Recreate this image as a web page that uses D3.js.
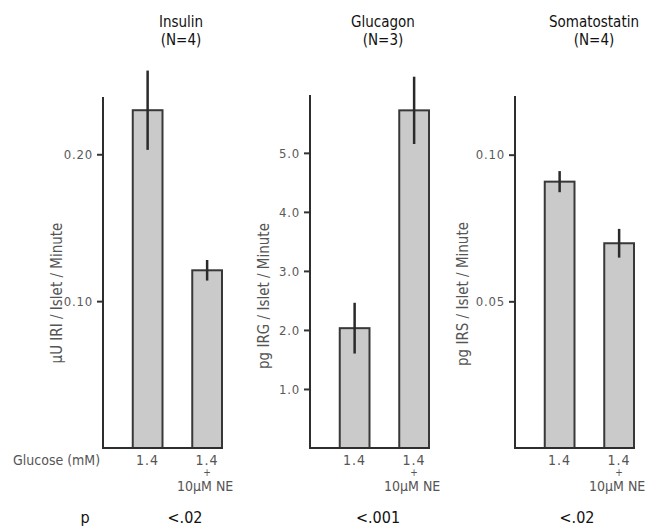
<!DOCTYPE html>
<html>
<head>
<meta charset="utf-8">
<script src="https://cdn.jsdelivr.net/npm/d3@7"></script>
<style>
  body { margin: 0; background: #fff; }
  svg { display: block; }
  .tick-label { font-family: "DejaVu Sans Condensed", "DejaVu Sans", sans-serif; font-size: 13px; fill: #5a5a5a; letter-spacing: 0.8px; }
  .ylab { font-family: "DejaVu Sans Condensed", "DejaVu Sans", sans-serif; font-size: 15px; fill: #555; }
  .title { font-family: "DejaVu Sans Condensed", "DejaVu Sans", sans-serif; font-size: 15px; fill: #111; }
  .cat { font-family: "DejaVu Sans Condensed", "DejaVu Sans", sans-serif; font-size: 14px; fill: #555; }
  .pval { font-family: "DejaVu Sans Condensed", "DejaVu Sans", sans-serif; font-size: 16px; fill: #111; }
</style>
</head>
<body>
<svg id="chart" width="660" height="531"></svg>
<script>
// hormone panels
const hormones = ["Insulin", "Glucagon", "Somatostatin"];
const counts = ["(N=4)", "(N=3)", "(N=4)"];
const yLabels = ["\u03bcU IRI / Islet / Minute", "pg IRG / Islet / Minute", "pg IRS / Islet / Minute"];
const conditions = ["1.4", "1.4 + NE"];

// bar means and standard errors
const means = [
  [0.230, 0.121],
  [2.03, 5.72],
  [0.0908, 0.0698]
];
const errors = [
  [0.027, 0.007],
  [0.43, 0.57],
  [0.0036, 0.0049]
];

// axis setup
const yMax = [0.239, 5.98, 0.12];
const yTicks = [[0.10, 0.20], [1, 2, 3, 4, 5], [0.05, 0.10]];
const tickFormats = [".2f", ".1f", ".2f"];
const pValues = ["<.02", "<.001", "<.02"];

// layout
const svg = d3.select("#chart");
const base = 448;
const axisX = [103, 310, 515];
const axisTop = [97, 95, 96];
const pOffset = [82, 68, 62];
const titleOffset = [78, 73, 79];
const yLabelPos = [[57, 293], [264, 296], [463, 294]];
const panelW = 119;

hormones.forEach((name, i) => {
  const g = svg.append("g");
  const x = d3.scaleBand()
    .domain(conditions)
    .range([axisX[i], axisX[i] + panelW])
    .paddingInner(0.5)
    .paddingOuter(0.25)
    .align(1);
  const y = d3.scaleLinear().domain([0, yMax[i]]).range([base, axisTop[i]]);

  const rows = conditions.map((c, j) => ({ c, m: means[i][j], e: errors[i][j] }));

  // bars
  g.selectAll("rect.bar")
    .data(rows)
    .enter()
    .append("rect")
    .attr("class", "bar")
    .attr("x", d => x(d.c))
    .attr("width", x.bandwidth())
    .attr("y", d => y(d.m))
    .attr("height", d => base - y(d.m))
    .attr("fill", "#cacaca")
    .attr("stroke", "#383838")
    .attr("stroke-width", 2);

  // error bars
  g.selectAll("line.err")
    .data(rows)
    .enter()
    .append("line")
    .attr("class", "err")
    .attr("x1", d => x(d.c) + x.bandwidth() / 2)
    .attr("x2", d => x(d.c) + x.bandwidth() / 2)
    .attr("y1", d => y(d.m + d.e))
    .attr("y2", d => y(d.m - d.e))
    .attr("stroke", "#2a2a2a")
    .attr("stroke-width", 2.5);

  // y axis
  const ax = d3.axisLeft(y)
    .tickValues(yTicks[i])
    .tickFormat(d3.format(tickFormats[i]))
    .tickSize(6)
    .tickPadding(4);
  const axG = g.append("g")
    .attr("transform", `translate(${axisX[i]},0)`)
    .call(ax);
  axG.select(".domain").remove();
  axG.selectAll(".tick line").attr("stroke", "#333").attr("stroke-width", 2);
  axG.selectAll(".tick text").attr("class", "tick-label").attr("font-family", null).attr("font-size", null).attr("fill", null);
  axG.attr("font-family", null).attr("font-size", null);

  g.append("line")
    .attr("x1", axisX[i]).attr("x2", axisX[i])
    .attr("y1", axisTop[i]).attr("y2", base + 1)
    .attr("stroke", "#2e2e2e").attr("stroke-width", 2);
  g.append("line")
    .attr("x1", axisX[i] - 1).attr("x2", axisX[i] + panelW + 1)
    .attr("y1", base).attr("y2", base)
    .attr("stroke", "#2e2e2e").attr("stroke-width", 2.2);

  // y label
  g.append("text")
    .attr("class", "ylab")
    .attr("text-anchor", "middle")
    .attr("transform", `translate(${yLabelPos[i][0]},${yLabelPos[i][1]}) rotate(-90)`)
    .attr("dy", "0.35em")
    .text(yLabels[i]);

  // titles
  const cx = axisX[i] + titleOffset[i];
  g.append("text").attr("class", "title").attr("text-anchor", "middle")
    .attr("x", cx).attr("y", 27).text(name);
  g.append("text").attr("class", "title").attr("text-anchor", "middle")
    .attr("x", cx).attr("y", 45).text(counts[i]);

  // condition labels
  const c0 = x(conditions[0]) + x.bandwidth() / 2;
  const c1 = x(conditions[1]) + x.bandwidth() / 2;
  g.append("text").attr("class", "cat").attr("text-anchor", "middle")
    .attr("x", c0).attr("y", 465).attr("letter-spacing", 1).text("1.4");
  const stack = g.append("text").attr("class", "cat").attr("text-anchor", "middle");
  stack.append("tspan").attr("x", c1).attr("y", 465).attr("letter-spacing", 1).text("1.4");
  stack.append("tspan").attr("x", c1).attr("y", 476).attr("font-size", 10).text("+");
  stack.append("tspan").attr("x", c1 - 2).attr("y", 491).attr("font-size", 14).text("10\u03bcM NE");

  // p value
  g.append("text").attr("class", "pval").attr("text-anchor", "middle")
    .attr("x", axisX[i] + pOffset[i]).attr("y", 523).text(pValues[i]);
});

svg.append("text").attr("class", "cat").attr("x", 13).attr("y", 465).text("Glucose (mM)");
svg.append("text").attr("class", "pval").attr("text-anchor", "middle").attr("x", 85).attr("y", 523).text("p");
</script>
</body>
</html>
